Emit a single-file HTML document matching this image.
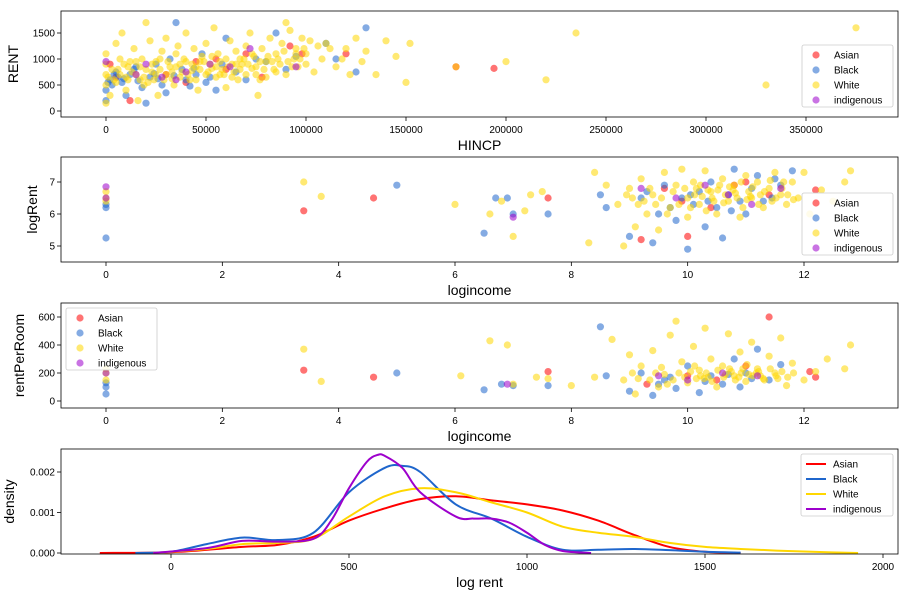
<!DOCTYPE html>
<html><head><meta charset="utf-8">
<style>
body{margin:0;background:#fff;font-family:"Liberation Sans","DejaVu Sans",sans-serif;}
svg text{font-family:"Liberation Sans","DejaVu Sans",sans-serif;}
</style></head>
<body>
<svg id="chart" width="908" height="596" xmlns="http://www.w3.org/2000/svg"></svg>
<script>
// ---------- data ----------
const rentAsian=[[2,900],[5,650],[30,700],[45,950],[60,800],[70,1100],[78,650],[92,1250],[98,1100],[120,1100],[175,850],[194,820],[12,200],[40,550],[55,1000]];
const rentBlack=[[0,200],[0,400],[2,600],[5,750],[8,550],[10,300],[12,700],[15,850],[18,450],[20,150],[22,650],[25,900],[28,500],[30,350],[32,1000],[35,1700],[38,800],[40,600],[45,700],[48,1100],[50,550],[55,400],[58,900],[60,1400],[65,750],[70,600],[75,1000],[80,950],[85,1500],[90,800],[95,1050],[110,1300],[115,1000],[125,750],[130,1600],[3,500],[6,650],[14,800],[26,620],[42,480],[1,550],[4,700],[9,620],[16,580],[24,720],[34,680],[44,820],[52,650]];
const rentWhite=[[0,150],[0,500],[0,700],[0,900],[0,1100],[2,300],[4,600],[5,1300],[6,800],[8,1500],[10,650],[10,400],[12,950],[14,1200],[15,700],[16,200],[18,1000],[19,500],[20,1700],[20,800],[22,1350],[24,600],[25,950],[26,300],[28,1150],[30,700],[30,1400],[32,850],[34,500],[35,1100],[36,1250],[38,750],[40,950],[40,1500],[42,600],[44,1200],[45,850],[46,400],[48,1050],[50,700],[50,1300],[52,900],[54,1600],[55,650],[56,1100],[58,800],[60,1000],[60,450],[62,1350],[64,750],[65,1150],[66,600],[68,900],[70,1250],[70,700],[72,1500],[74,1050],[75,850],[76,300],[78,1200],[80,950],[80,650],[82,1400],[84,800],[85,1100],[86,1000],[88,1300],[90,1700],[90,700],[92,1550],[94,1000],[95,1200],[96,850],[98,1400],[100,1100],[100,900],[102,1350],[104,750],[106,1250],[108,1000],[110,1300],[112,1200],[115,850],[118,1000],[120,1200],[122,700],[125,1400],[128,950],[130,1150],[135,700],[140,1350],[145,1050],[150,550],[152,1300],[175,850],[200,950],[220,600],[235,1500],[330,500],[375,1600],[7,1000],[11,850],[17,600],[23,750],[27,1000],[33,620],[37,900],[43,780],[47,950],[53,820],[57,700],[63,900],[67,1000],[73,820],[77,600],
[1,650],[3,800],[5,550],[7,700],[9,900],[11,600],[13,750],[15,950],[17,850],[19,650],[21,550],[23,900],[25,700],[27,800],[29,600],[31,950],[33,750],[35,850],[37,650],[39,1000],[41,700],[43,900],[45,600],[47,800],[49,950],[51,750],[53,1050],[55,850],[57,950],[59,700],[61,850],[63,650],[65,900],[67,800],[69,1000],[71,900],[73,1100],[75,700],[77,950],[79,800],[81,1050],[83,950],[85,750],[87,900],[89,1150],[91,950],[93,850],[95,1100],[97,1000],[99,1200]];
const rentIndig=[[0,950],[15,700],[28,650],[35,600],[40,750],[52,900],[62,850],[72,1200],[95,850],[20,900]];

const lrAsian=[[3.4,6.1],[4.6,6.5],[7.6,6.5],[9.2,5.2],[9.6,6.8],[10.0,5.3],[10.4,6.2],[11.0,7.0],[11.4,6.6],[12.2,6.75],[9.9,6.4],[10.8,6.9]];
const lrBlack=[[0,5.25],[0,6.2],[0,6.3],[5.0,6.9],[6.5,5.4],[6.7,6.5],[6.9,6.5],[7.0,6.0],[7.6,6.0],[8.5,6.6],[8.6,6.2],[9.0,5.3],[9.2,6.5],[9.4,5.1],[9.5,6.0],[9.6,6.9],[9.8,5.8],[10.0,4.9],[10.1,6.3],[10.2,6.7],[10.3,5.6],[10.4,7.0],[10.5,6.2],[10.6,5.25],[10.7,6.6],[10.8,7.4],[11.0,6.0],[11.1,6.8],[11.3,6.4],[11.5,7.1],[11.6,6.9],[11.8,7.35],[9.3,6.7],[9.9,6.5],[10.9,6.4],[11.2,7.2],[9.7,6.2],[10.05,6.6],[10.35,6.4],[10.75,6.1],[11.45,6.5]];
const lrWhite=[[0,6.5],[0,6.7],[0,6.4],[3.4,7.0],[3.7,6.55],[6.0,6.3],[6.6,6.0],[6.8,6.4],[7.0,5.3],[7.2,6.1],[7.3,6.6],[7.5,6.7],[8.3,5.1],[8.4,7.3],[8.6,6.9],[8.8,6.3],[8.9,5.0],[9.0,6.8],[9.1,5.6],[9.2,7.1],[9.3,6.0],[9.4,6.6],[9.5,5.5],[9.6,7.3],[9.7,6.2],[9.8,6.9],[9.9,7.4],[10.0,6.5],[10.0,5.9],[10.1,7.0],[10.2,6.3],[10.3,7.35],[10.4,6.7],[10.5,6.0],[10.6,7.1],[10.7,6.4],[10.8,6.9],[10.9,5.9],[11.0,7.2],[11.1,6.5],[11.2,7.0],[11.3,6.2],[11.4,6.8],[11.5,7.3],[11.6,6.6],[11.7,6.3],[11.8,7.0],[11.9,6.5],[12.0,7.3],[12.1,6.0],[12.3,6.75],[12.5,6.4],[12.7,7.0],[12.8,7.35],[9.45,6.3],[9.75,6.7],[10.15,6.8],[10.45,6.4],[10.65,6.6],[10.85,6.5],[11.05,6.7],[11.25,6.6],[11.45,6.4],[11.65,7.0],[9.25,6.4],[10.25,6.55],[10.55,6.9],[10.95,6.2],
[9.35,6.8],[9.55,6.5],[9.65,6.0],[9.85,6.3],[9.95,6.8],[10.05,6.2],[10.12,6.6],[10.22,6.9],[10.32,6.1],[10.42,6.5],[10.52,6.75],[10.62,6.35],[10.72,6.85],[10.82,6.65],[10.92,7.0],[11.02,6.45],[11.12,6.85],[11.22,6.3],[11.32,6.7],[11.42,7.05],[11.52,6.5],[11.62,6.8],[11.72,6.6],[11.82,6.45],[9.15,6.3],[9.05,6.5],[8.95,6.6],[10.35,6.75],[10.78,6.75],[11.08,6.55]];
const lrIndig=[[0,6.85],[0,6.5],[7.0,5.9],[9.2,6.8],[9.8,6.5],[10.3,6.9],[10.7,6.6],[11.1,6.3],[11.6,6.8]];

const rpAsian=[[3.4,220],[4.6,170],[7.6,210],[9.3,120],[10.0,180],[10.5,150],[11.0,250],[11.4,600],[12.1,210],[12.2,170]];
const rpBlack=[[0,50],[0,100],[0,130],[5.0,200],[6.5,80],[6.8,120],[7.0,110],[7.6,110],[8.5,530],[8.6,180],[9.0,70],[9.2,200],[9.4,40],[9.6,150],[9.8,90],[10.0,250],[10.2,60],[10.4,180],[10.6,120],[10.8,300],[11.0,200],[11.2,370],[11.4,150],[11.6,260],[9.5,120],[10.9,100],[9.7,170],[10.3,140],[10.7,190],[11.1,160]];
const rpWhite=[[0,150],[0,200],[0,230],[3.4,370],[3.7,140],[6.1,180],[6.6,430],[6.9,400],[7.0,120],[7.4,170],[7.6,160],[8.0,110],[8.4,170],[8.7,440],[9.0,330],[9.1,50],[9.2,250],[9.4,360],[9.5,100],[9.6,190],[9.7,470],[9.8,570],[9.9,280],[10.0,130],[10.1,390],[10.2,220],[10.3,520],[10.4,300],[10.5,100],[10.6,250],[10.7,480],[10.8,180],[10.9,350],[11.0,140],[11.1,420],[11.2,230],[11.3,160],[11.4,320],[11.5,200],[11.6,450],[11.7,110],[11.8,270],[12.0,150],[12.2,210],[12.4,300],[12.7,230],[12.8,400],[9.45,200],[9.75,150],[10.05,210],[10.35,170],[10.65,190],[10.95,230],[11.25,180],[11.55,160],[10.15,160],[10.75,210],[11.05,190],
[9.35,150],[9.55,240],[9.65,120],[9.85,200],[9.95,170],[10.12,250],[10.22,180],[10.32,200],[10.42,140],[10.52,220],[10.62,170],[10.72,230],[10.82,150],[10.92,200],[11.02,260],[11.12,180],[11.22,210],[11.32,150],[11.42,230],[11.52,180],[11.62,210],[11.72,170],[11.82,200],[9.15,160],[9.05,200],[8.9,150],[10.28,160],[10.88,170],[11.18,200]];
const rpIndig=[[0,200],[6.9,120],[9.5,180],[10.0,150],[10.6,200],[11.2,180]];

const dAsianX=[-200,0,200,300,400,500,600,700,800,900,1000,1100,1200,1300,1400,1500,1600];
const dAsianY=[0,0.02,0.15,0.2,0.4,0.8,1.1,1.33,1.4,1.3,1.2,1.05,0.8,0.45,0.15,0.03,0];
const dBlackX=[-100,0,100,200,300,400,500,600,650,700,800,900,1000,1100,1200,1300,1400,1500,1600];
const dBlackY=[0,0.03,0.22,0.38,0.32,0.5,1.5,2.1,2.15,2.0,1.2,0.85,0.4,0.08,0.08,0.1,0.07,0.03,0.01];
const dWhiteX=[-50,100,200,300,400,500,600,700,800,900,1000,1100,1200,1300,1400,1500,1600,1700,1800,1930];
const dWhiteY=[0,0.1,0.22,0.25,0.35,0.9,1.4,1.6,1.5,1.25,1.0,0.65,0.5,0.4,0.25,0.15,0.1,0.06,0.03,0];
const dIndigX=[-50,100,200,300,400,450,500,550,580,600,650,700,800,850,900,950,1000,1050,1100,1180];
const dIndigY=[0,0.12,0.3,0.28,0.35,0.8,1.6,2.25,2.42,2.4,2.1,1.5,0.9,0.85,0.85,0.75,0.5,0.2,0.05,0];

const cols={Asian:'#ff0000',Black:'#1f66cc',White:'#ffd700',indigenous:'#9d00cc'};
const names=['Asian','Black','White','indigenous'];
// ---------- helpers ----------
const svg=document.getElementById('chart');
const NS='http://www.w3.org/2000/svg';
function mk(tag,at,parent){const e=document.createElementNS(NS,tag);for(const k in at)e.setAttribute(k,at[k]);(parent||svg).appendChild(e);return e;}
function lin(d0,d1,r0,r1){return v=>r0+(v-d0)/(d1-d0)*(r1-r0);}
function panel(id,box,sx,sy,xt,yt,xl,yl,xlab,ylab,ylabX){
  const g=mk('g',{});
  xt.forEach((t,i)=>{const x=sx(t);mk('line',{x1:x,x2:x,y1:box.b,y2:box.b+4,stroke:'#000','stroke-width':0.8},g);
    const tx=mk('text',{x:x,y:box.b+16,'font-size':10,'text-anchor':'middle',fill:'#000'},g);tx.textContent=xl[i];
    });
  yt.forEach((t,i)=>{const y=sy(t);mk('line',{x1:box.l-4,x2:box.l,y1:y,y2:y,stroke:'#000','stroke-width':0.8},g);
    const tx=mk('text',{x:box.l-6,y:y+3.5,'font-size':10,'text-anchor':'end',fill:'#000'},g);tx.textContent=yl[i];
    });
  const xa=mk('text',{x:(box.l+box.r)/2,y:box.b+33,'font-size':14,'text-anchor':'middle'},g);xa.textContent=xlab;
  
  const cy=(box.t+box.b)/2;
  const ya=mk('text',{x:ylabX,y:cy,'font-size':14,'text-anchor':'middle',transform:`rotate(-90 ${ylabX} ${cy})`},g);ya.textContent=ylab;
  
  return g;
}
function frame(g,box){const r=mk('rect',{x:box.l,y:box.t,width:box.r-box.l,height:box.b-box.t,fill:'none',stroke:'#000','stroke-width':0.8},g);
  }
function scatter(g,sets,sx,sy){sets.forEach((s,i)=>{s.forEach(p=>{const c=mk('circle',{cx:sx(p[0]),cy:sy(p[1]),r:3.6,fill:cols[names[i]],'fill-opacity':0.55},g);
  });});}
function legend(g,x,y,line){const lg=mk('g',{},g);
  mk('rect',{x:x,y:y,width:line?92:91,height:62,rx:2,fill:'#fff','fill-opacity':0.85,stroke:'#ccc','stroke-width':0.8},lg);
  names.forEach((n,i)=>{const yy=y+10+i*15;
    if(line)mk('line',{x1:x+5,x2:x+25,y1:yy,y2:yy,stroke:cols[n],'stroke-width':2},lg);
    else mk('circle',{cx:x+14,cy:yy,r:3.6,fill:cols[n],'fill-opacity':0.55},lg);
    const t=mk('text',{x:x+32,y:yy+3.5,'font-size':10},lg);t.textContent=n;
    });}
// ---------- panel 1 ----------
{const box={l:61,r:898,t:11,b:117};const sx=lin(0,50,106,206),sy=lin(0,1000,111,59);
 const g=panel('rent-vs-hincp',box,sx,sy,[0,50,100,150,200,250,300,350],[0,500,1000,1500],
  ['0','50000','100000','150000','200000','250000','300000','350000'],['0','500','1000','1500'],'HINCP','RENT',18);
 scatter(g,[rentAsian,rentBlack,rentWhite,rentIndig],sx,sy);legend(g,802,45,false);frame(g,box);}
// ---------- panel 2 ----------
{const box={l:61,r:898,t:157,b:262};const sx=lin(0,12,106,804),sy=lin(5,7,246,182);
 const g=panel('logrent-vs-logincome',box,sx,sy,[0,2,4,6,8,10,12],[5,6,7],['0','2','4','6','8','10','12'],['5','6','7'],'logincome','logRent',37);
 scatter(g,[lrAsian,lrBlack,lrWhite,lrIndig],sx,sy);legend(g,802,193,false);frame(g,box);}
// ---------- panel 3 ----------
{const box={l:61,r:898,t:303,b:408};const sx=lin(0,12,106,804),sy=lin(0,600,401,317);
 const g=panel('rentperroom-vs-logincome',box,sx,sy,[0,2,4,6,8,10,12],[0,200,400,600],['0','2','4','6','8','10','12'],['0','200','400','600'],'logincome','rentPerRoom',24);
 scatter(g,[rpAsian,rpBlack,rpWhite,rpIndig],sx,sy);legend(g,66,308,false);frame(g,box);}
// ---------- panel 4 ----------
{const box={l:61,r:898,t:449,b:554};const sx=lin(0,2000,171,883),sy=lin(0,2,553,472);
 const g=panel('density-plot',box,sx,sy,[0,500,1000,1500,2000],[0,1,2],['0','500','1000','1500','2000'],['0.000','0.001','0.002'],'log rent','density',14);
 const sets=[[dAsianX,dAsianY],[dBlackX,dBlackY],[dWhiteX,dWhiteY],[dIndigX,dIndigY]];
 [0,1,2,3].forEach(i=>{const X=sets[i][0],Y=sets[i][1];const P=X.map((x,k)=>[sx(x),sy(Y[k])]);
  let d='M'+P[0][0]+','+P[0][1];
  for(let k=0;k<P.length-1;k++){const p0=P[Math.max(k-1,0)],p1=P[k],p2=P[k+1],p3=P[Math.min(k+2,P.length-1)];
   const c1=[p1[0]+(p2[0]-p0[0])/6,p1[1]+(p2[1]-p0[1])/6],c2=[p2[0]-(p3[0]-p1[0])/6,p2[1]-(p3[1]-p1[1])/6];
   d+=` C${c1[0]},${Math.min(c1[1],553)} ${c2[0]},${Math.min(c2[1],553)} ${p2[0]},${p2[1]}`;}
  const pa=mk('path',{d:d,fill:'none',stroke:cols[names[i]],'stroke-width':2},g);
  
  });
 legend(g,801,454,true);frame(g,box);}
</script>
</body></html>
